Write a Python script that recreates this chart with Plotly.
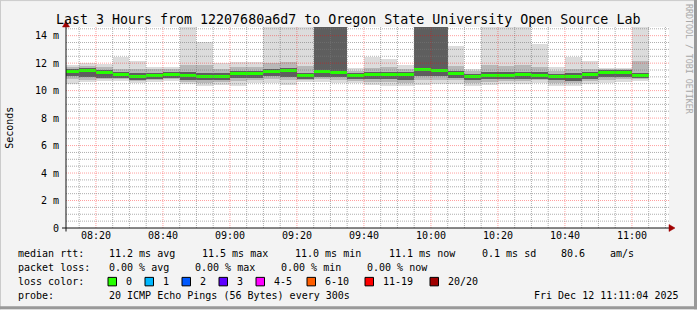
import plotly.graph_objects as go
import pandas as pd

# ---------------- data ----------------
bar_end = pd.date_range('2025-12-12 08:15', '2025-12-12 11:05', freq='5min')
bar_center = [(t - pd.Timedelta(seconds=150)).strftime('%Y-%m-%d %H:%M:%S') for t in bar_end]

median_ms = [11.39, 11.46, 11.31, 11.15, 11.03, 11.10, 11.20, 11.07, 11.03, 11.03,
             11.22, 11.22, 11.39, 11.46, 11.07, 11.39, 11.31, 11.07, 11.15, 11.15,
             11.15, 11.51, 11.48, 11.24, 11.03, 11.12, 11.12, 11.15, 11.12, 11.03,
             11.03, 11.15, 11.31, 11.31, 11.07]
max_ms = [11.87, 12.04, 11.92, 12.48, 12.19, 11.71, 11.75, 19.0, 13.57, 12.04,
          12.11, 12.07, 19.0, 19.0, 19.0, 19.0, 19.0, 11.63, 12.48, 12.31,
          11.87, 19.0, 19.0, 13.25, 11.56, 19.0, 19.0, 19.0, 13.40, 11.75,
          12.48, 12.16, 11.68, 11.63, 19.0]
min_ms = [10.47, 10.60, 10.70, 10.72, 10.54, 10.62, 10.70, 10.45, 10.35, 10.40,
          10.35, 10.55, 10.55, 10.40, 10.60, 10.60, 10.55, 10.55, 10.42, 10.35,
          10.30, 10.40, 10.45, 10.50, 10.35, 10.40, 10.50, 10.50, 10.55, 10.35,
          10.30, 10.50, 10.55, 10.60, 10.70]
upper2_ms = [11.75, 11.80, 11.70, 11.60, 11.55, 11.55, 11.60, 11.90, 11.85, 11.60,
             11.75, 11.75, 12.00, 12.10, 11.80, 12.00, 11.95, 11.45, 11.65, 11.70,
             11.55, 12.00, 12.00, 11.80, 11.40, 11.90, 11.80, 11.85, 11.75, 11.45,
             11.55, 11.60, 11.55, 11.55, 12.15]
lower2_ms = [10.85, 10.80, 10.85, 10.82, 10.68, 10.75, 10.82, 10.65, 10.55, 10.60,
             10.70, 10.78, 10.85, 10.75, 10.75, 10.82, 10.80, 10.72, 10.65, 10.60,
             10.55, 10.80, 10.80, 10.78, 10.58, 10.65, 10.72, 10.72, 10.75, 10.58,
             10.55, 10.72, 10.80, 10.82, 10.82]
upper3_ms = [11.58, 11.62, 11.50, 11.35, 11.25, 11.30, 11.38, 11.35, 11.30, 11.25,
             11.42, 11.42, 11.60, 11.68, 11.30, 19.0, 19.0, 11.25, 11.35, 11.38,
             11.33, 19.0, 19.0, 11.45, 11.20, 11.35, 11.33, 11.36, 11.32, 11.22,
             11.25, 11.35, 11.48, 11.48, 11.30]
lower3_ms = [11.05, 11.00, 10.95, 10.90, 10.80, 10.85, 10.90, 10.80, 10.75, 10.78,
             10.92, 10.95, 11.05, 11.00, 10.85, 11.02, 11.00, 10.85, 10.85, 10.82,
             10.78, 11.05, 11.05, 10.95, 10.75, 10.85, 10.88, 10.88, 10.88, 10.75,
             10.72, 10.88, 11.00, 11.02, 10.90]

y_tick_vals = [0, 2, 4, 6, 8, 10, 12, 14]
y_tick_text = ['0', '2 m', '4 m', '6 m', '8 m', '10 m', '12 m', '14 m']
y_minor_vals = [v / 2 for v in range(1, 30)]
x_range = ['2025-12-12 08:11:04', '2025-12-12 11:11:04']
x_minor_times = pd.date_range('2025-12-12 08:15', '2025-12-12 11:10', freq='5min')

title_text = 'Last 3 Hours from 12207680a6d7 to Oregon State University Open Source Lab'
loss_labels = ['0', '1', '2', '3', '4-5', '6-10', '11-19', '20/20']
loss_colors = ['#26ff00', '#00b8ff', '#0059ff', '#5e00ff', '#ff00ff', '#ff5e00', '#ff0000', '#a00000']

# ---------------- geometry helpers ----------------
W, H = 697, 310
L, R, T, B = 66, 28, 27, 81.5
PW, PH = W - L - R, H - T - B


def px(x):
    return (x - L) / PW


def py(y):
    return (H - B - y) / PH


MONO = 'DejaVu Sans Mono'
BAR_W = 300000
MINOR_COL = 'rgba(120,120,120,0.6)'
MAJOR_COL = 'rgba(255,0,0,0.38)'

fig = go.Figure()
levels = [(min_ms, max_ms, '#dcdcdc'), (lower2_ms, upper2_ms, '#b8b8b8'), (lower3_ms, upper3_ms, '#5e5e5e')]
for lo, hi, col in levels:
    fig.add_trace(go.Bar(x=bar_center, base=lo, y=[h - l for h, l in zip(hi, lo)], width=BAR_W,
                         marker=dict(color=col, line=dict(width=0)), hoverinfo='skip', showlegend=False))
fig.add_trace(go.Bar(x=bar_center, base=[m - 0.11 for m in median_ms], y=[0.22] * len(median_ms), width=BAR_W,
                     marker=dict(color=loss_colors[0], line=dict(width=0)), hoverinfo='skip', showlegend=False))

shapes = []
# grid drawn above the smoke, as rrdtool does
for t in x_minor_times:
    major = (t.minute % 20 == 0)
    shapes.append(dict(type='line', xref='x', yref='paper', x0=t, x1=t, y0=0, y1=1, layer='above',
                       line=dict(color=MAJOR_COL if major else MINOR_COL, width=1, dash='1px,1px')))
for v in y_minor_vals:
    major = (v % 2 == 0)
    shapes.append(dict(type='line', xref='paper', yref='y', x0=0, x1=1, y0=v, y1=v, layer='above',
                       line=dict(color=MAJOR_COL if major else MINOR_COL, width=1, dash='1px,1px')))
# frame
shapes.append(dict(type='line', xref='paper', yref='paper', x0=px(0), x1=px(W), y0=py(0.5), y1=py(0.5),
                   line=dict(color='#cbcbcb', width=1)))
shapes.append(dict(type='line', xref='paper', yref='paper', x0=px(0.5), x1=px(0.5), y0=py(0), y1=py(H),
                   line=dict(color='#cbcbcb', width=1)))
shapes.append(dict(type='line', xref='paper', yref='paper', x0=px(0), x1=px(W), y0=py(H - 1.5), y1=py(H - 1.5),
                   line=dict(color='#999999', width=3)))
shapes.append(dict(type='line', xref='paper', yref='paper', x0=px(W - 1.5), x1=px(W - 1.5), y0=py(0), y1=py(H),
                   line=dict(color='#999999', width=3)))
# axes lines
shapes.append(dict(type='line', xref='paper', yref='paper', x0=px(62), x1=px(670), y0=0, y1=0,
                   line=dict(color='#101010', width=1)))
shapes.append(dict(type='line', xref='paper', yref='paper', x0=0, x1=0, y0=py(232), y1=py(24),
                   line=dict(color='#101010', width=1)))
# arrows
shapes.append(dict(type='path', xref='paper', yref='paper',
                   path=f'M {px(669)},{py(225)} L {px(675)},{py(228.5)} L {px(669)},{py(232)} Z',
                   fillcolor='#a00000', line=dict(color='#a00000', width=0.5)))
shapes.append(dict(type='path', xref='paper', yref='paper',
                   path=f'M {px(62.5)},{py(27)} L {px(66)},{py(21)} L {px(69.5)},{py(27)} Z',
                   fillcolor='#a00000', line=dict(color='#a00000', width=0.5)))

ann = []


def text(x, y, s, anchor='left', size=10, color='#000000', angle=0):
    ann.append(dict(xref='paper', yref='paper', x=px(x), y=py(y), text=s, showarrow=False,
                    xanchor=anchor, yanchor='middle', textangle=angle,
                    font=dict(family=MONO, size=size, color=color)))


text(348, 19, title_text, anchor='center', size=13.3)
text(10, 128, 'Seconds', anchor='center', angle=-90)
text(689, 59, 'RRDTOOL / TOBI OETIKER', anchor='center', size=8.3, color='#a8a8a8', angle=90)

row1 = [(16, 'median rtt:'), (107, '11.2 ms avg'), (200, '11.5 ms max'), (293, '11.0 ms min'),
        (387, '11.1 ms now'), (480, '0.1 ms sd'), (559, '80.6'), (608, 'am/s')]
row2 = [(16, 'packet loss:'), (107, '0.00 % avg'), (193, '0.00 % max'), (279, '0.00 % min'), (365, '0.00 % now')]
for x, s in row1:
    text(x, 254, s)
for x, s in row2:
    text(x, 268, s)
text(16, 282, 'loss color:')
sw_x = [108, 145, 182, 219, 256, 307, 365, 430]
for sx, lab, col in zip(sw_x, loss_labels, loss_colors):
    shapes.append(dict(type='rect', xref='paper', yref='paper', x0=px(sx), x1=px(sx + 8.5),
                       y0=py(286.5), y1=py(278), fillcolor=col, line=dict(color='#000000', width=1)))
    text(sx + 15.5, 282, lab)
text(16, 296, 'probe:')
text(107, 296, '20 ICMP Echo Pings (56 Bytes) every 300s')
text(681, 296, 'Fri Dec 12 11:11:04 2025', anchor='right')

fig.update_layout(
    width=W, height=H, margin=dict(l=L, r=R, t=T, b=B, pad=0),
    paper_bgcolor='#f3f3f3', plot_bgcolor='#ffffff',
    barmode='overlay', bargap=0, showlegend=False,
    font=dict(family=MONO, size=10, color='#000000'),
    shapes=shapes, annotations=ann,
    xaxis=dict(type='date', range=x_range,
               tick0='2025-12-12 08:00', dtick=1200000, tickformat='%H:%M',
               showgrid=False, showline=False, zeroline=False, ticks='', fixedrange=True,
               tickfont=dict(family=MONO, size=10, color='#000000')),
    yaxis=dict(range=[0, 14.63], tickvals=y_tick_vals, ticktext=y_tick_text,
               showgrid=False, showline=False, zeroline=False, ticks='', ticklabelstandoff=6, fixedrange=True,
               tickfont=dict(family=MONO, size=10, color='#000000')),
)

fig.write_html('out.html')
